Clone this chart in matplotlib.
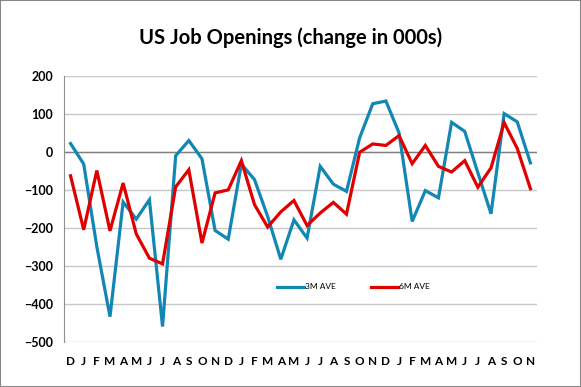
import numpy as np
import matplotlib
matplotlib.use("Agg")
import matplotlib.pyplot as plt
from matplotlib.patches import Rectangle

plt.rcParams['font.family'] = ['Lato', 'DejaVu Sans']

# month labels, Dec to Nov over three years
months = list("DJFMAMJJASON") + list("DJFMAMJJASON") + list("DJFMAMJJASON")
months = months[:36]

# values (000s)
ave_3m = [22, -32, -250, -434, -132, -177, -126, -460, -10, 30,
          -18, -207, -230, -32, -73, -170, -283, -179, -227, -38,
          -85, -104, 37, 127, 134, 50, -183, -102, -121, 78,
          54, -55, -163, 101, 79, -29]
ave_6m = [-63, -205, -49, -208, -82, -216, -280, -295, -92, -47,
          -240, -108, -100, -23, -139, -198, -158, -128, -194, -161,
          -133, -164, -1, 21, 17, 43, -31, 17, -38, -53,
          -23, -93, -42, 77, 9, -97]

blue = '#1287b3'
red = '#e00000'

fig = plt.figure(figsize=(5.81, 3.87), dpi=100)
ax = fig.add_axes([64/581, (387-341.7)/387, (537-64)/581, (341.7-76)/387])

x = np.arange(len(months))
ax.plot(x, ave_3m, color=blue, lw=2.3, label='3M AVE', solid_joinstyle='miter')
ax.plot(x, ave_6m, color=red, lw=2.3, label='6M AVE', solid_joinstyle='miter')

ax.set_xlim(-0.5, len(months) - 0.5)
ax.set_ylim(-500, 200)
ax.set_yticks(np.arange(-500, 201, 100))
ax.set_xticks(x)
ax.set_xticklabels(months)

ax.grid(axis='y', color='#c8c8c8', lw=1)
ax.axhline(0, color='#808080', lw=1, zorder=1.5)
ax.set_axisbelow(True)
for s in ['top', 'right', 'bottom']:
    ax.spines[s].set_visible(False)
ax.spines['left'].set_color('#909090')
ax.tick_params(length=0)
ax.tick_params(axis='y', pad=8, labelsize=9)
ax.tick_params(axis='x', pad=10, labelsize=8.5)
for t in ax.get_xticklabels() + ax.get_yticklabels():
    t.set_fontweight('bold')

ax.legend(loc='center', bbox_to_anchor=(0.612, 0.206), ncol=2, frameon=False,
          fontsize=6, handlelength=3.2, handletextpad=0.2, columnspacing=4.2)

fig.text(0.5, 1 - 38/387, 'US Job Openings (change in 000s)', ha='center',
         va='center', fontsize=14.5, fontweight='bold')

fig.patches.append(Rectangle((0, 0), 1, 1, transform=fig.transFigure,
                             fill=False, edgecolor='#888888', lw=1.5))

fig.savefig('out.png', dpi=100)
